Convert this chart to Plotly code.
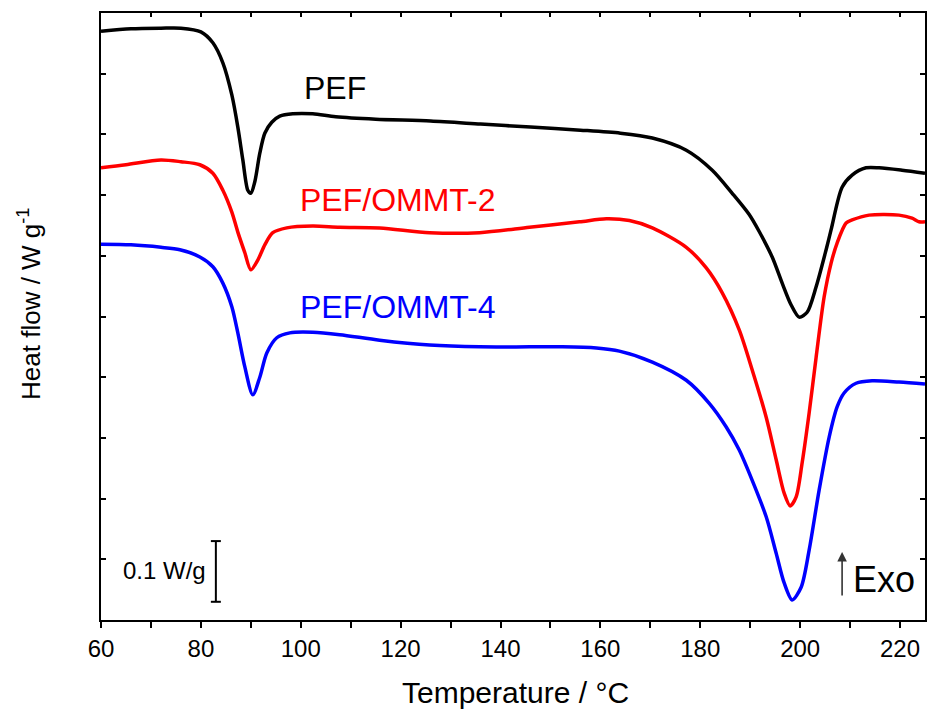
import plotly.graph_objects as go

# ---- data (Temperature in °C, heat flow in W/g, offset curves) ----
pef_T = [60, 66, 72, 76, 80, 82.4, 84.4, 86.2, 87.4, 88.4, 89.4, 90.0, 90.8, 91.8, 92.8, 94.2,
         95.8, 98.4, 102.4, 107, 115, 126, 136, 146, 156, 164, 170.4, 177.2, 182.4, 186.4, 189.8,
         191.8, 194.4, 196.4, 198.2, 199.8, 201.4, 203.2, 205.2, 206.2, 208.4, 210.4, 213.2, 215.8,
         220.4, 225]
pef_H = [0.970, 0.974, 0.975, 0.975, 0.969, 0.951, 0.918, 0.865, 0.812, 0.758, 0.708, 0.703, 0.722,
         0.769, 0.802, 0.820, 0.830, 0.834, 0.834, 0.829, 0.825, 0.822, 0.817, 0.812, 0.807, 0.802,
         0.794, 0.774, 0.741, 0.703, 0.668, 0.640, 0.598, 0.555, 0.519, 0.499, 0.507, 0.549, 0.610,
         0.643, 0.713, 0.733, 0.745, 0.745, 0.741, 0.736]

ommt2_T = [60, 65, 72, 76, 79.8, 82.4, 84.4, 86.2, 87.4, 88.8, 90.0, 91.4, 92.8, 94.4, 97.2, 102.4,
           107.8, 115.8, 125.8, 135.8, 145.8, 155.8, 161.2, 165.8, 170.4, 177.2, 181.2, 184.4, 187.8,
           190.4, 193.2, 195.2, 196.8, 198.0, 199.2, 200.4, 201.8, 203.2, 204.8, 206.2, 207.4, 209.2,
           210.4, 213.8, 219.8, 222.4, 223.8, 225]
ommt2_H = [0.745, 0.750, 0.758, 0.755, 0.750, 0.736, 0.708, 0.672, 0.639, 0.605, 0.577, 0.593, 0.618,
           0.638, 0.646, 0.649, 0.647, 0.646, 0.638, 0.638, 0.647, 0.656, 0.661, 0.658, 0.646, 0.614,
           0.580, 0.539, 0.478, 0.412, 0.334, 0.264, 0.209, 0.188, 0.203, 0.259, 0.341, 0.433, 0.532,
           0.588, 0.621, 0.654, 0.659, 0.667, 0.667, 0.662, 0.656, 0.656]

ommt4_T = [60, 66, 72, 75.8, 79.8, 82.4, 84.4, 86.2, 87.4, 88.8, 90.4, 91.8, 93.2, 95.2, 97.8, 102.4,
           107.8, 115.8, 125.8, 135.8, 145.8, 152.4, 159.2, 163.8, 170.4, 177.2, 181.8, 185.2, 187.8,
           190.4, 193.2, 195.2, 196.8, 198.4, 200.2, 201.8, 203.8, 205.8, 207.4, 208.8, 211.2, 214.4,
           219.8, 225]
ommt4_H = [0.619, 0.618, 0.614, 0.610, 0.598, 0.582, 0.555, 0.516, 0.473, 0.417, 0.371, 0.400, 0.440,
           0.465, 0.473, 0.474, 0.470, 0.461, 0.453, 0.450, 0.450, 0.450, 0.448, 0.443, 0.425, 0.395,
           0.357, 0.318, 0.280, 0.230, 0.170, 0.110, 0.061, 0.033, 0.054, 0.115, 0.214, 0.301, 0.351,
           0.374, 0.390, 0.394, 0.392, 0.389]

series_names = ["PEF", "PEF/OMMT-2", "PEF/OMMT-4"]
series_colors = ["#000000", "#ff0000", "#0000ff"]
x_ticks = [60, 80, 100, 120, 140, 160, 180, 200, 220]
scale_bar = 0.1  # W/g

FONT = "Arial, 'Liberation Sans', sans-serif"

fig = go.Figure()
for T, H, name, col in zip([pef_T, ommt2_T, ommt4_T], [pef_H, ommt2_H, ommt4_H],
                           series_names, series_colors):
    fig.add_trace(go.Scatter(x=T, y=H, mode="lines", name=name,
                             line=dict(color=col, width=3.5, shape="spline", smoothing=0.8),
                             showlegend=False, hoverinfo="skip"))

# invisible trace to activate the top axis
fig.add_trace(go.Scatter(x=[60], y=[0.5], xaxis="x2", mode="markers",
                         marker=dict(opacity=0), showlegend=False, hoverinfo="skip"))

# series labels
label_pos = [(100.2, 0.876), (99.4, 0.692), (99.4, 0.516)]
annotations = []
for (lx, ly), name, col in zip(label_pos, series_names, series_colors):
    annotations.append(dict(x=lx, y=ly, xref="x", yref="y", text=name, showarrow=False,
                            xanchor="left", yanchor="middle",
                            font=dict(family=FONT, size=32, color=col)))

# scale bar text
annotations.append(dict(x=81.4, y=0.082, xref="x", yref="y", text="0.1 W/g", showarrow=False,
                        xanchor="right", yanchor="middle",
                        font=dict(family=FONT, size=24, color="black")))
# Exo arrow + text
annotations.append(dict(x=208.4, y=0.112, ax=208.4, ay=0.038, xref="x", yref="y",
                        axref="x", ayref="y", text="", showarrow=True, arrowhead=2,
                        arrowsize=1.2, arrowwidth=1.6, arrowcolor="#333333"))
annotations.append(dict(x=210.2, y=0.0675, xref="x", yref="y", text="Exo", showarrow=False,
                        xanchor="left", yanchor="middle",
                        font=dict(family=FONT, size=36, color="black")))
# axis titles
annotations.append(dict(x=0.5036, y=-0.120, xref="paper", yref="paper",
                        text="Temperature / °C", showarrow=False,
                        xanchor="center", yanchor="middle",
                        font=dict(family=FONT, size=30, color="black")))
annotations.append(dict(x=-0.0862, y=0.5206, xref="paper", yref="paper",
                        text="Heat flow / W g<sup>-1</sup>", showarrow=False, textangle=-90,
                        xanchor="center", yanchor="middle",
                        font=dict(family=FONT, size=26, color="black")))

# scale bar shapes
sb_x, sb_y0 = 83.0, 0.03
shapes = [
    dict(type="line", xref="x", yref="y", x0=sb_x, x1=sb_x, y0=sb_y0, y1=sb_y0 + scale_bar,
         line=dict(color="black", width=2)),
    dict(type="line", xref="x", yref="y", x0=sb_x - 1.0, x1=sb_x + 1.0, y0=sb_y0, y1=sb_y0,
         line=dict(color="black", width=2)),
    dict(type="line", xref="x", yref="y", x0=sb_x - 1.0, x1=sb_x + 1.0,
         y0=sb_y0 + scale_bar, y1=sb_y0 + scale_bar, line=dict(color="black", width=2)),
]

fig.update_layout(
    width=929, height=714,
    margin=dict(l=101, r=4, t=13, b=94, autoexpand=False),
    paper_bgcolor="white", plot_bgcolor="white",
    font=dict(family=FONT, color="black"),
    xaxis=dict(range=[60, 225], tickvals=x_ticks, ticks="outside", ticklen=6, tickwidth=2,
               tickcolor="black", showline=True, linecolor="black", linewidth=2, mirror=True,
               showgrid=False, zeroline=False, automargin=False,
               tickfont=dict(family=FONT, size=24, color="black"),
               minor=dict(dtick=10, ticks="outside", ticklen=6, tickwidth=2, tickcolor="black",
                          showgrid=False)),
    xaxis2=dict(range=[60, 225], overlaying="x", side="top", dtick=10, tick0=60,
                ticks="inside", ticklen=4, tickwidth=1.5, tickcolor="black",
                showticklabels=False, showline=False, showgrid=False, zeroline=False),
    yaxis=dict(range=[0, 1], dtick=0.1, tick0=0, ticks="inside", ticklen=5, tickwidth=1.5,
               tickcolor="black", showticklabels=False, showline=True, linecolor="black",
               linewidth=2, mirror="ticks", showgrid=False, zeroline=False, automargin=False),
    annotations=annotations,
    shapes=shapes,
)

fig.write_html("out.html", config={"displayModeBar": False},
               post_script="document.body.style.margin='0';document.body.style.padding='0';"
                           "document.body.style.overflow='hidden';")
